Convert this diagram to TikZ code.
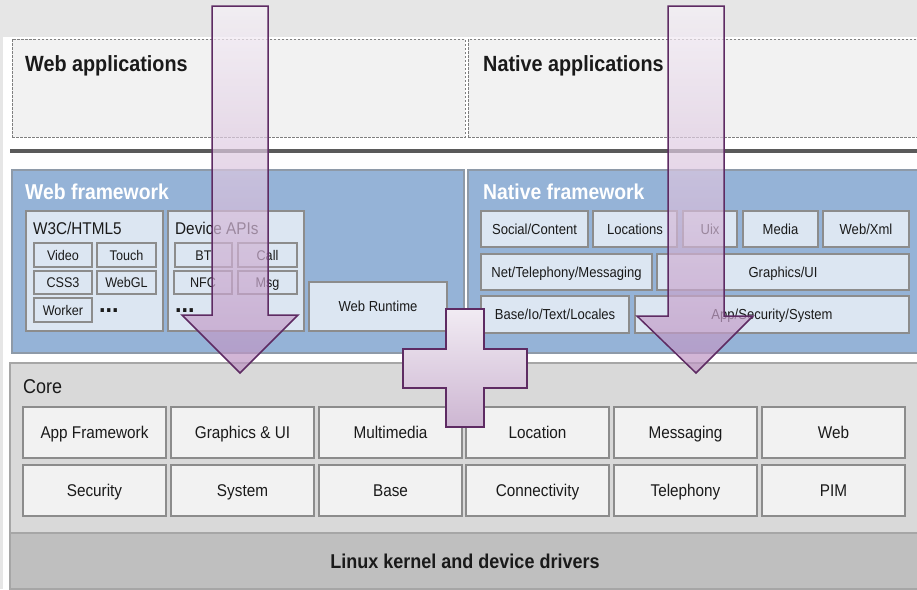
\documentclass[tikz,border=0pt]{standalone}
\usepackage{fontspec}
\setmainfont{Liberation Sans}[FakeStretch=0.9]
\definecolor{topgray}{HTML}{E6E6E6}
\definecolor{appfill}{HTML}{F2F2F2}
\definecolor{appline}{HTML}{7F7F7F}
\definecolor{fwfill}{HTML}{95B3D7}
\definecolor{fwline}{HTML}{8E9AA8}
\definecolor{modfill}{HTML}{DCE6F2}
\definecolor{modline}{HTML}{8C8C8C}
\definecolor{corefill}{HTML}{D9D9D9}
\definecolor{coreline}{HTML}{A6A6A6}
\definecolor{cellfill}{HTML}{F2F2F2}
\definecolor{kernfill}{HTML}{BFBFBF}
\definecolor{divline}{HTML}{5A5A5A}
\definecolor{arrowtop}{HTML}{F6F1F7}
\definecolor{arrowbot}{HTML}{BC92C2}
\definecolor{plustop}{HTML}{F1EBF3}
\definecolor{plusbot}{HTML}{CDB6D2}
\definecolor{arrowline}{HTML}{5E2B63}
\definecolor{inktext}{HTML}{1A1A1A}
\tikzset{
  box/.style={inner sep=0pt, outer sep=0pt, anchor=north west, line width=1.2pt},
  wh/.style 2 args={minimum width=#1pt, minimum height=#2pt},
  appbox/.style={box, draw=appline, line width=0.8pt, dash pattern=on 2.5pt off 1.5pt, fill=appfill},
  fwbox/.style={box, draw=fwline, fill=fwfill},
  modbox/.style={box, draw=modline, fill=modfill, text=inktext},
  apibox/.style={modbox, text height=10pt, text depth=0pt, font=\fontsize{14}{14}\selectfont},
  natbox/.style={modbox, text height=10.4pt, text depth=0pt, font=\fontsize{14.5}{14.5}\selectfont},
  cellbox/.style={box, draw=modline, fill=cellfill, text=inktext, text height=12.2pt, text depth=0pt, font=\fontsize{17}{17}\selectfont},
  title/.style={anchor=base west, inner sep=0pt, text=inktext},
  dotsmark/.style={inner sep=0pt, anchor=base west, text=inktext, font=\bfseries\fontsize{26}{26}\selectfont},
  bigarrow/.style={top color=arrowtop, bottom color=arrowbot, fill opacity=0.7, draw=arrowline, draw opacity=1, line width=1.5pt},
  plusmark/.style={top color=plustop, bottom color=plusbot, draw=arrowline, line width=1.5pt}
}
\begin{document}
\begin{tikzpicture}[x=1pt,y=-1pt]
\useasboundingbox (0,0) rectangle (917,589);
\fill[topgray] (0,0) rectangle (917,589);
\fill[white] (3,37) rectangle (917,589);
\node[appbox, wh={453}{98}] (webapps) at (12,39) {};
\node[appbox, wh={455}{98}] (natapps) at (468,39) {};
\node[title, font=\bfseries\fontsize{22}{22}\selectfont] (webappst) at (25,71) {Web applications};
\node[title, font=\bfseries\fontsize{22}{22}\selectfont] (natappst) at (483,71) {Native applications};
\draw[line width=4pt, divline] (10,151) -- (917,151);
\node[fwbox, wh={452}{183}] (webfw) at (12,170) {};
\node[fwbox, wh={455}{183}] (natfw) at (468,170) {};
\node[title, text=white, font=\bfseries\fontsize{21.5}{21.5}\selectfont] (webfwt) at (25,199) {Web framework};
\node[title, text=white, font=\bfseries\fontsize{21.5}{21.5}\selectfont] (natfwt) at (483,199) {Native framework};
\node[modbox, wh={137}{120}] (w3c) at (26,211) {};
\node[modbox, wh={136}{120}] (devapi) at (168,211) {};
\node[title, font=\fontsize{17}{17}\selectfont] (w3ct) at (33,234) {W3C/HTML5};
\node[title, font=\fontsize{17}{17}\selectfont] (devapit) at (175,234) {Device APIs};
\node[apibox, wh={58}{24}] (video) at (34,243) {Video};
\node[apibox, wh={59}{24}] (touch) at (97,243) {Touch};
\node[apibox, wh={58}{23}] (css) at (34,271) {CSS3};
\node[apibox, wh={59}{23}] (webgl) at (97,271) {WebGL};
\node[apibox, wh={58}{24}] (worker) at (34,298) {Worker};
\node[dotsmark] (dotsa) at (99,312) {...};
\node[apibox, wh={57}{24}] (bt) at (175,243) {BT};
\node[apibox, wh={59}{24}] (call) at (238,243) {Call};
\node[apibox, wh={58}{23}] (nfc) at (174,271) {NFC};
\node[apibox, wh={59}{23}] (msg) at (238,271) {Msg};
\node[dotsmark] (dotsb) at (175,312) {...};
\node[natbox, wh={138}{49}] (webrt) at (309,282) {Web Runtime};
\node[natbox, wh={107}{36}] (social) at (481,211) {Social/Content};
\node[natbox, wh={84}{36}] (locs) at (593,211) {Locations};
\node[natbox, wh={54}{36}] (uix) at (683,211) {Uix};
\node[natbox, wh={75}{36}] (media) at (743,211) {Media};
\node[natbox, wh={86}{36}] (webxml) at (823,211) {Web/Xml};
\node[natbox, wh={171}{36}] (nettel) at (481,254) {Net/Telephony/Messaging};
\node[natbox, wh={252}{36}] (gfxui) at (657,254) {Graphics/UI};
\node[natbox, wh={148}{37}] (baseio) at (481,296) {Base/Io/Text/Locales};
\node[natbox, wh={274}{37}] (appsec) at (635,296) {App/Security/System};
\node[box, draw=coreline, fill=corefill, wh={910}{170}] (core) at (10,363) {};
\node[title, font=\fontsize{20}{20}\selectfont] (coret) at (23,393) {Core};
\node[cellbox, wh={143}{51}] (appfw) at (23,407) {App Framework};
\node[cellbox, wh={143}{51}] (gfx) at (171,407) {Graphics \& UI};
\node[cellbox, wh={143}{51}] (mmedia) at (319,407) {Multimedia};
\node[cellbox, wh={143}{51}] (loc) at (466,407) {Location};
\node[cellbox, wh={143}{51}] (messg) at (614,407) {Messaging};
\node[cellbox, wh={143}{51}] (web) at (762,407) {Web};
\node[cellbox, wh={143}{51}] (secur) at (23,465) {Security};
\node[cellbox, wh={143}{51}] (syst) at (171,465) {System};
\node[cellbox, wh={143}{51}] (basec) at (319,465) {Base};
\node[cellbox, wh={143}{51}] (conn) at (466,465) {Connectivity};
\node[cellbox, wh={143}{51}] (tele) at (614,465) {Telephony};
\node[cellbox, wh={143}{51}] (pim) at (762,465) {PIM};
\node[box, draw=coreline, fill=kernfill, wh={910}{56}, text=inktext, text height=14.3pt, text depth=0pt, font=\bfseries\fontsize{20}{20}\selectfont] (kernel) at (10,533) {Linux kernel and device drivers};
\path[bigarrow] (212,6) -- (268,6) -- (268,315) -- (298,315) -- (240,373) -- (182,315) -- (212,315) -- cycle;
\path[bigarrow] (668,6) -- (724,6) -- (724,316) -- (753,316) -- (696,373) -- (637,316) -- (668,316) -- cycle;
\path[plusmark] (446,309) -- (484,309) -- (484,349) -- (527,349) -- (527,388) -- (484,388) -- (484,427) -- (446,427) -- (446,388) -- (403,388) -- (403,349) -- (446,349) -- cycle;
\end{tikzpicture}
\end{document}
